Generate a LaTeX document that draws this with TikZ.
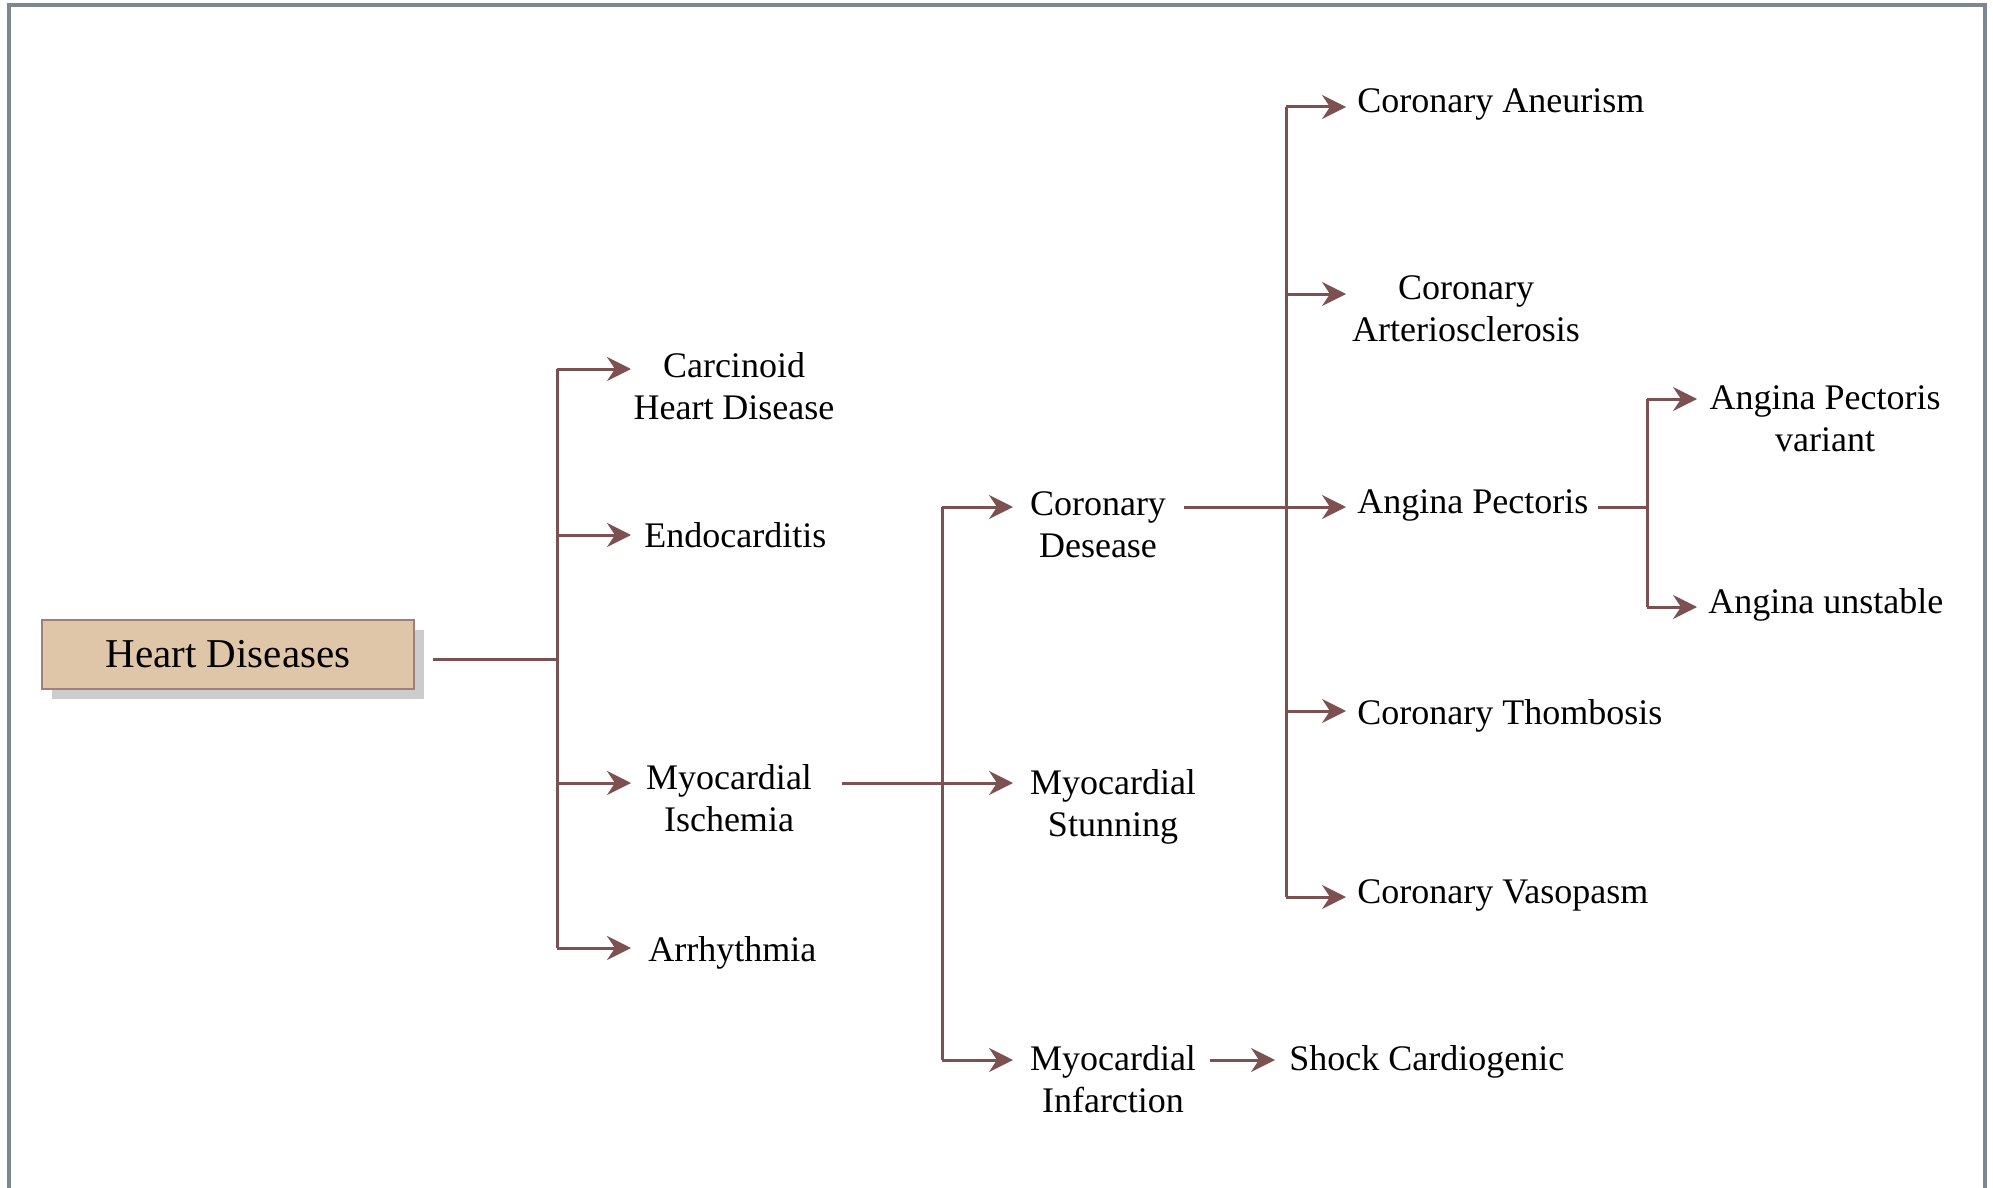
\documentclass[tikz,border=0pt]{standalone}
\usepackage{fontspec}
\setmainfont{Liberation Serif}
\usetikzlibrary{arrows.meta,shadows}
\definecolor{linkbrown}{HTML}{7D5151}
\definecolor{boxtan}{HTML}{DFC6A9}
\definecolor{boxedge}{HTML}{A27F7B}
\definecolor{framegrey}{HTML}{7C8791}
\definecolor{shade}{HTML}{CCCCCC}
\begin{document}
\begin{tikzpicture}[x=0.5pt,y=-0.5pt,
  link/.style={draw=linkbrown, line width=1.5pt},
  arr/.style={link, -{Stealth[length=12pt,width=12pt,inset=4pt]}},
  lbl/.style={font=\fontsize{18}{21}\selectfont, align=center, inner sep=0pt},
  rootbox/.style={draw=boxedge, line width=1pt, fill=boxtan,
    minimum width=186pt, minimum height=34.5pt, inner sep=0pt,
    font=\fontsize{20.5}{24}\selectfont,
    drop shadow={shadow xshift=5pt, shadow yshift=-5pt, fill=shade, opacity=1}},
  frameline/.style={draw=framegrey, line width=2pt}
]
\useasboundingbox (0,0) rectangle (1993,1188);
\draw[frameline] (9,1188) -- (9,5.5) -- (1984.5,5.5) -- (1984.5,1188);

% root and labels
\node[rootbox] (hd) at (228,654) {Heart Diseases};

\node[lbl] (carc) at (734,390) {\strut Carcinoid\\\strut Heart Disease};
\node[lbl, anchor=west] (endo) at (644,539) {\strut Endocarditis};
\node[lbl] (isch) at (729,802) {\strut Myocardial\\\strut Ischemia};
\node[lbl, anchor=west] (arrh) at (648,953) {\strut Arrhythmia};

\node[lbl] (cor) at (1098,528) {\strut Coronary\\\strut Desease};
\node[lbl] (stun) at (1113,807) {\strut Myocardial\\\strut Stunning};
\node[lbl] (inf) at (1113,1083) {\strut Myocardial\\\strut Infarction};
\node[lbl, anchor=west] (shock) at (1289,1062) {\strut Shock Cardiogenic};

\node[lbl, anchor=west] (aneu) at (1357,104) {\strut Coronary Aneurism};
\node[lbl] (art) at (1466,312) {\strut Coronary\\\strut Arteriosclerosis};
\node[lbl, anchor=west] (ap) at (1357,505) {\strut Angina Pectoris};
\node[lbl, anchor=west] (thr) at (1357,716) {\strut Coronary Thombosis};
\node[lbl, anchor=west] (vas) at (1357,895) {\strut Coronary Vasopasm};

\node[lbl] (apv) at (1825,422) {\strut Angina Pectoris\\\strut variant};
\node[lbl, anchor=west] (apu) at (1708,605) {\strut Angina unstable};

% rows of the connectors
\coordinate (r-hd) at (0,659);
\coordinate (r-carc) at (0,369);
\coordinate (r-endo) at (0,535);
\coordinate (r-isch) at (0,783);
\coordinate (r-arrh) at (0,948);
\coordinate (r-cor) at (0,507);
\coordinate (r-inf) at (0,1060);
\coordinate (r-aneu) at (0,107);
\coordinate (r-art) at (0,294);
\coordinate (r-thr) at (0,711);
\coordinate (r-vas) at (0,897);
\coordinate (r-apv) at (0,399);
\coordinate (r-apu) at (0,607);

% trunk columns and arrow tips
\coordinate (t1) at (557,0);
\coordinate (t2) at (942,0);
\coordinate (t3) at (1286,0);
\coordinate (t4) at (1647,0);
\coordinate (tip1) at (631,0);
\coordinate (tip2) at (1013,0);
\coordinate (tip3) at (1346,0);
\coordinate (tip4) at (1697,0);

% Heart Diseases branch
\draw[link] ([xshift=9pt]hd.east |- r-hd) -- (t1 |- r-hd);
\draw[link] (t1 |- r-carc) -- (t1 |- r-arrh);
\draw[arr] (t1 |- r-carc) -- (tip1 |- r-carc);
\draw[arr] (t1 |- r-endo) -- (tip1 |- r-endo);
\draw[arr] (t1 |- r-isch) -- (tip1 |- r-isch);
\draw[arr] (t1 |- r-arrh) -- (tip1 |- r-arrh);

% Myocardial Ischemia branch
\draw[link] ([xshift=15pt]isch.east |- r-isch) -- (t2 |- r-isch);
\draw[link] (t2 |- r-cor) -- (t2 |- r-inf);
\draw[arr] (t2 |- r-cor) -- (tip2 |- r-cor);
\draw[arr] (t2 |- r-isch) -- (tip2 |- r-isch);
\draw[arr] (t2 |- r-inf) -- (tip2 |- r-inf);

% Myocardial Infarction
\draw[arr] ([xshift=7pt]inf.east |- r-inf) -- ([xshift=-7pt]shock.west |- r-inf);

% Coronary Desease branch
\draw[arr] ([xshift=9pt]cor.east |- r-cor) -- (tip3 |- r-cor);
\draw[link] (t3 |- r-aneu) -- (t3 |- r-vas);
\draw[arr] (t3 |- r-aneu) -- (tip3 |- r-aneu);
\draw[arr] (t3 |- r-art) -- (tip3 |- r-art);
\draw[arr] (t3 |- r-thr) -- (tip3 |- r-thr);
\draw[arr] (t3 |- r-vas) -- (tip3 |- r-vas);

% Angina Pectoris branch
\draw[link] ([xshift=4.5pt]ap.east |- r-cor) -- (t4 |- r-cor);
\draw[link] (t4 |- r-apv) -- (t4 |- r-apu);
\draw[arr] (t4 |- r-apv) -- (tip4 |- r-apv);
\draw[arr] (t4 |- r-apu) -- (tip4 |- r-apu);
\end{tikzpicture}
\end{document}
